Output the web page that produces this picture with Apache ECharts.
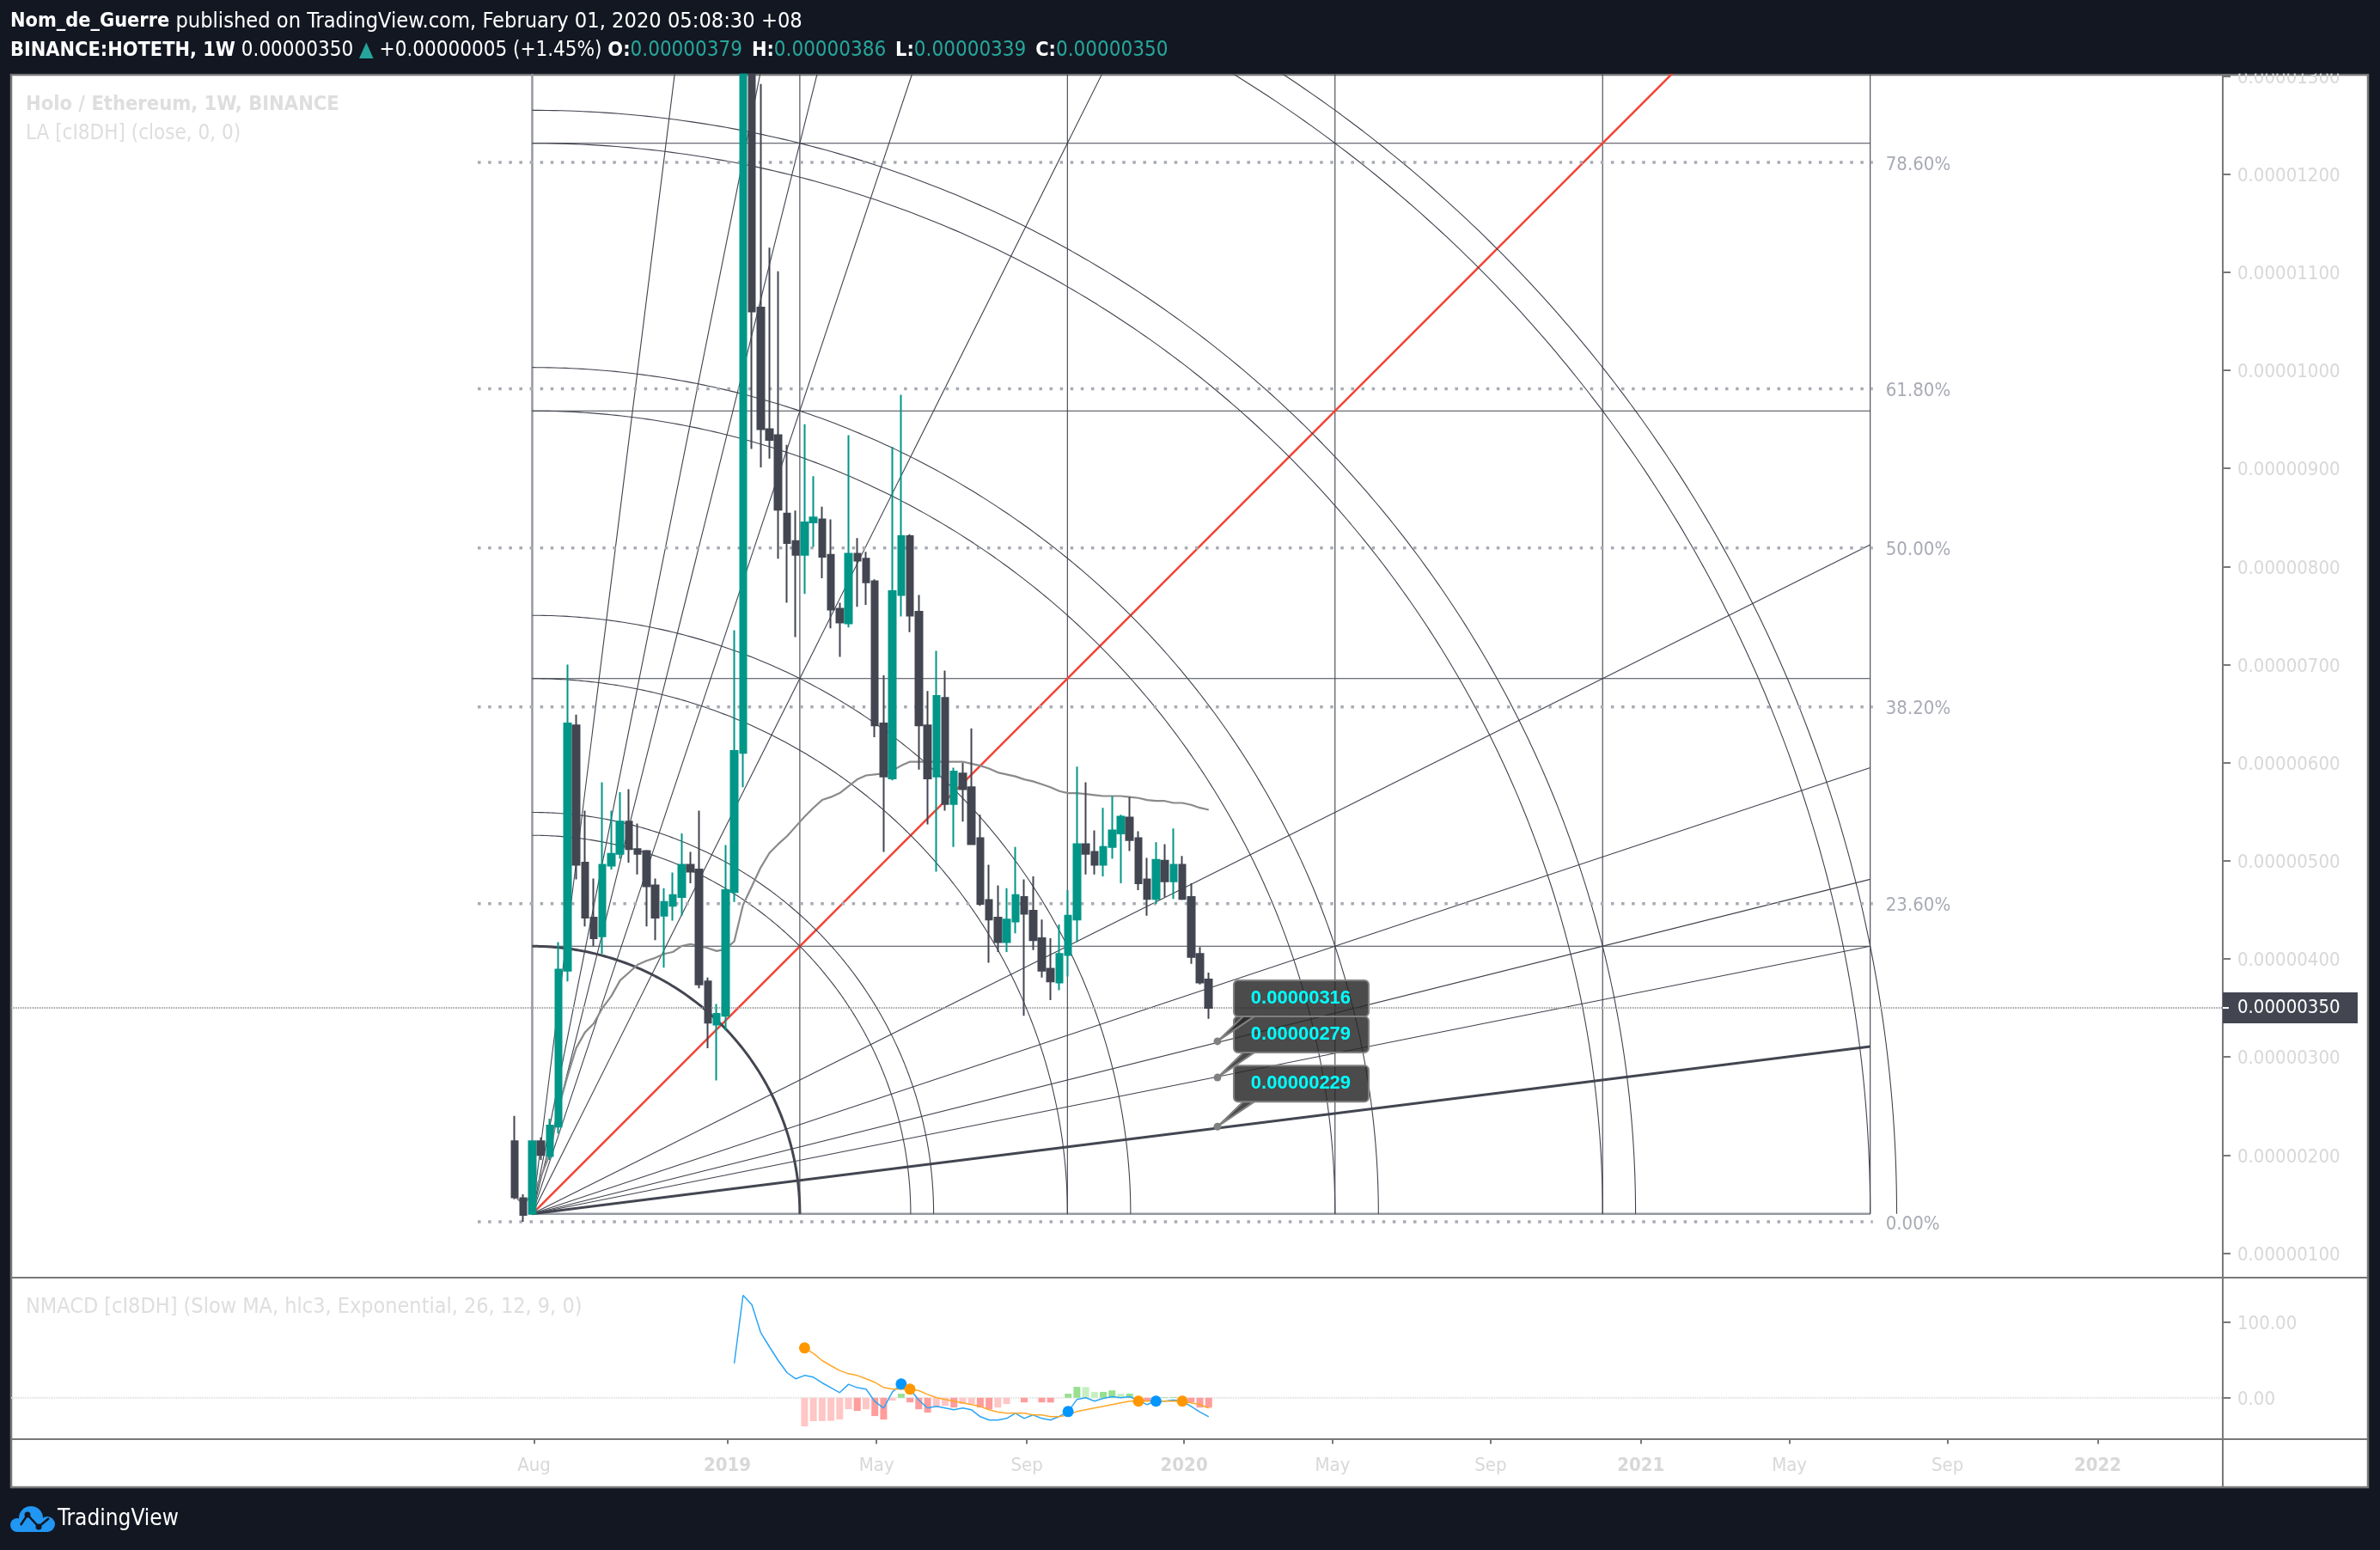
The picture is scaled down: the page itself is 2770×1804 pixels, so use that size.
<!DOCTYPE html>
<html><head><meta charset="utf-8">
<style>html,body{margin:0;padding:0;background:#131722}#c{width:2770px;height:1804px}</style>
<script src="https://cdn.jsdelivr.net/npm/echarts@6/dist/echarts.min.js"></script>
</head><body><div id="c"></div>
<script>
// Prices are in units of 0.00000001 ETH; bar numbers count weekly candles.
const opens = [214,156,140,214,199,229,388,638,498,442,
423,495,507,540,512,510,475,444,454,463,
496,491,377,333,342,468,610,1450,1064,940,
934,854,826,812,845,848,812,757,742,813,
808,785,640,584,771,831,754,638,586,666,
558,589,575,523,460,442,417,438,463,449,
421,390,376,404,440,517,509,496,514,528,
544,523,481,461,500,479,496,463,405,379];
const closes = [157,139,214,200,230,389,640,496,442,421,
496,507,540,512,507,474,442,458,465,496,
489,374,335,344,470,612,1450,1060,940,929,
858,824,812,845,850,810,756,743,813,806,
784,638,586,775,831,750,638,584,668,558,
591,573,517,456,440,417,440,465,446,419,
388,377,405,444,517,507,496,514,531,545,
521,477,461,501,479,496,461,402,376,350];
const lows = [155,132,139,195,195,222,377,481,433,413,
405,491,502,498,486,433,419,391,439,444,
477,370,309,276,327,458,575,920,901,910,
808,763,728,772,820,788,737,708,738,759,
761,626,509,582,749,733,593,537,489,551,
514,540,516,454,396,407,407,426,342,409,
381,358,368,382,417,486,486,484,502,477,
510,470,444,456,463,461,460,395,374,339];
const highs = [240,160,215,218,237,417,700,649,551,482,
580,551,570,573,538,511,482,472,488,528,
509,551,381,354,516,735,1506,1470,1292,1125,
1101,924,857,945,892,861,848,763,934,829,
815,787,689,922,975,833,771,673,714,694,
595,600,635,547,496,475,472,514,481,484,
440,421,435,470,596,580,531,554,566,547,
565,530,503,519,517,533,505,477,412,386];
const laLine = [158,150,160,178,201,248,280,309,325,334,
350,362,378,386,394,398,401,405,407,413,
415,413,411,408,410,418,455,474,493,508,
517,525,535,545,554,562,565,569,576,583,
587,588,589,592,597,601,601,601,601,601,
601,601,599,597,594,590,588,586,583,581,
578,575,571,569,569,568,567,566,566,566,
565,564,562,561,561,559,559,557,554,552];
const macdStart = 25;
const macdLine = [45.5,135.6,123,86.4,67.4,49.2,33.3,25,29.5,27.3,19.7,13.3,6.8,17.8,13.3,11.4,-4.9,-13.6,7.6,18.2,
11.4,-3,-13.6,-11.4,-13.6,-15.9,-13.6,-15.9,-25,-29.5,-29.5,-27.3,-20.5,-27.3,-22.7,-27.3,-29.5,-24.6,-18.2,-2.3,
0,-4.5,-0.8,1.5,0,1.5,-3.8,-9.1,-4.5,-4.5,-3,-4.5,-11.4,-18.9,-25];
const signalStart = 33;
const signalLine = [65.9,58.7,49.2,42.4,36,31.8,29.5,25,20.5,13.6,11.4,11.4,11.4,9.5,4.5,0,-2.3,-4.5,-6.8,-9.1,
-11.4,-15.9,-18.9,-20.5,-20.5,-20.5,-22.7,-22.7,-25,-25,-22.7,-18.2,-15.9,-13.6,-11.4,-9.1,-6.8,-4.5,-4.5,-4.5,
-4.5,-4.5,-4.5,-4.5,-6.8,-9.1,-13.6];
const histogram = [-37.9,-31,-30.8,-30.6,-28.8,-15.2,-17.4,-15.2,-24.2,-28.8,-3.8,5.3,-6.1,-15.2,-19.7,-12.9,-10.6,-12.9,-8.3,-8.1,
-12.9,-15.2,-12.9,-8.3,0,-6.1,0,-6.1,-6.3,0,5.3,14.4,14.2,7.6,7.8,9.8,5.3,5.5,-3.8,-4,
-3.8,0.8,1,-3.8,-6.1,-12.9,-13.1];
const blueDotBars = [44,63,73];
const orangeDotBars = [33,45,71,76];
const priceTicks = [100,200,300,400,500,600,700,800,900,1000,1100,1200,1300];
const macdTicks = [0,100];
const timeTickBars = [2.2,24.2,41.2,58.3,76.2,93.1,111.1,128.2,145.1,163.1,180.2];
const timeTickLabels = ['Aug','2019','May','Sep','2020','May','Sep','2021','May','Sep','2022'];
const fibLevels = [0,0.236,0.382,0.5,0.618,0.786];
const fanSlopes = [8,5,4,3,2,1,1/2,1/3,1/4,1/5,1/8];
const gannArcs = [[1,0],[1,1],[1.5,0],[2,0],[2,1],[3,0],[3,1],[4,0],[4,1],[5,0],[5,1]];
const gannLines = [1,2,3,4,5];
const gannOrigin = [2,140];
const gannUnit = [30.46,272.9];
const calloutBar = 80;
const calloutPrices = [229,279,316];
const lastChange = 5, lastChangePct = 1.45;

const fmtPrice = v => (v/1e8).toFixed(8);
const UI = "'DejaVu Sans Condensed','Noto Sans',sans-serif";
const GRAY = '#d8d8d8', FRAME = '#787878', LINE = '#40434e', SOFT = '#9598a1';
const TEAL = '#009688', DARK = '#434651';
const xMin = -57.31, xMax = 194.43;

const bg = {type:'line', animation:false, silent:true, symbol:'none', xAxisIndex:0, yAxisIndex:0};
const series = [];
const seg = (data, color, width, z, extra) => series.push(Object.assign({}, bg, {
  data, z, lineStyle:{color, width, cap:'butt'}}, extra||{}));

// Gann box grid
const [ox, oy] = gannOrigin, [ux, uy] = gannUnit;
seg([[ox,oy],[ox+5*ux,oy]], SOFT, 2.5, 1);
seg([[ox,oy],[ox,oy+5*uy]], SOFT, 2.5, 1);
gannLines.forEach(k => {
  seg([[ox,oy+k*uy],[ox+5*ux,oy+k*uy]], LINE, 1.1, 1);
  seg([[ox+k*ux,oy],[ox+k*ux,oy+5*uy]], LINE, 1.1, 1);
});
// Fan
fanSlopes.forEach(s => {
  const end = s>=1 ? [ox+5*ux/s, oy+5*uy] : [ox+5*ux, oy+5*uy*s];
  const color = s===1 ? '#f44336' : (s===1/8 ? DARK : LINE);
  seg([[ox,oy],end], color, s===1 ? 2.5 : (s===1/8 ? 3 : 1.1), 1);
});
// Arcs
gannArcs.forEach(([a,b]) => {
  const r = Math.sqrt(a*a+b*b), pts = [];
  for (let d=0; d<=240; d++) {
    const t = d/240*Math.PI/2;
    pts.push([ox+r*ux*Math.cos(t), oy+r*uy*Math.sin(t)]);
  }
  seg(pts, (a===1&&b===0) ? DARK : LINE, (a===1&&b===0) ? 3 : 1.1, 1);
});
// Fib retracement
const fibLow = lows[1], fibHigh = highs[26];
fibLevels.forEach(l => {
  const p = fibLow + l*(fibHigh-fibLow);
  seg([[-4.2,p],[154.6,p]], '#a8abb4', 3.5, 1, {
    lineStyle:{color:'#a8abb4', width:3.5, type:[3.5,8.6]},
    clip:false,
    endLabel:{show:true, distance:15, color:'#a8abb4', fontFamily:UI, fontSize:22, offset:[0,3],
      formatter:(l*100).toFixed(2)+'%'}
  });
});
// Current price line
const lastClose = closes[closes.length-1];
seg([[xMin,lastClose],[xMax,lastClose]], '#9a9a9a', 2, 1, {lineStyle:{color:'#9a9a9a',width:2,type:[1,1]}});
// LA moving average
seg(laLine.map((v,i)=>[i,v]), '#8a8a8a', 2.2, 2);
// Candles
series.push({type:'candlestick', animation:false, silent:true, z:3, xAxisIndex:0, yAxisIndex:0, clip:true,
  barWidth:8, encode:{x:0,y:[1,2,3,4]},
  itemStyle:{color:TEAL,color0:DARK,borderColor:TEAL,borderColor0:DARK,borderWidth:2},
  data:opens.map((o,i)=>[i,o,closes[i],lows[i],highs[i]])});
// Callouts
series.push({type:'custom', animation:false, silent:true, z:5, clip:false, xAxisIndex:0, yAxisIndex:0,
  data:calloutPrices.map(p=>[calloutBar,p]),
  renderItem:(params,api)=>{
    const c = api.coord([api.value(0),api.value(1)]), px=c[0], py=c[1];
    const fill='rgba(40,40,40,0.84)', edge='#808080';
    return {type:'group',children:[
      {type:'polygon',shape:{points:[[px,py],[px+30,py-29],[px+43,py-29]]},style:{fill,stroke:edge,lineWidth:2}},
      {type:'rect',shape:{x:px+19,y:py-71,width:157,height:42,r:5},style:{fill,stroke:edge,lineWidth:2}},
      {type:'circle',shape:{cx:px,cy:py,r:4.5},style:{fill:edge}},
      {type:'text',style:{x:px+97,y:py-50,text:fmtPrice(api.value(1)),align:'center',verticalAlign:'middle',
        fill:'#00ffff',font:"bold 22px 'Liberation Sans',sans-serif"}}
    ]};
  }});
// Last price tag
series.push({type:'custom', animation:false, silent:true, z:6, clip:false, xAxisIndex:0, yAxisIndex:0,
  data:[[xMax,lastClose]],
  renderItem:(params,api)=>{
    const c = api.coord([api.value(0),api.value(1)]);
    return {type:'group',children:[
      {type:'rect',shape:{x:c[0],y:c[1]-18,width:157,height:36},style:{fill:DARK}},
      {type:'rect',shape:{x:c[0],y:c[1]-1,width:7,height:2},style:{fill:'#ffffff'}},
      {type:'text',style:{x:c[0]+17,y:c[1],text:fmtPrice(api.value(1)),align:'left',verticalAlign:'middle',
        fill:'#ffffff',font:"22px "+UI}}
    ]};
  }});
// NMACD pane
const pane = {xAxisIndex:1,yAxisIndex:1,animation:false,silent:true};
series.push(Object.assign({},pane,{type:'line',symbol:'none',z:1,data:[[xMin,0],[xMax,0]],
  lineStyle:{color:'#dddddd',width:2,type:[1,1]}}));
series.push(Object.assign({},pane,{type:'bar',barWidth:8,z:2,
  data:histogram.map((v,i)=>[signalStart+i,v]),
  itemStyle:{color:p=>{
    const i=p.dataIndex, v=histogram[i], prev=i?histogram[i-1]:v;
    return v>=0 ? (v>prev?'#97e090':'#c5efc0') : (v<prev?'#ff9c9c':'#ffc6c6');
  }}}));
const macdData = macdLine.map((v,i)=>[macdStart+i,v]);
const signalData = signalLine.map((v,i)=>[signalStart+i,v]);
series.push(Object.assign({},pane,{type:'line',symbol:'none',z:3,data:macdData,lineStyle:{color:'#2aa5f5',width:1.5}}));
series.push(Object.assign({},pane,{type:'line',symbol:'none',z:3,data:signalData,lineStyle:{color:'#ffa726',width:1.5}}));
series.push(Object.assign({},pane,{type:'scatter',symbolSize:13,z:4,itemStyle:{color:'#0496ff',opacity:1},
  data:blueDotBars.map(b=>[b,macdLine[b-macdStart]])}));
series.push(Object.assign({},pane,{type:'scatter',symbolSize:13,z:4,itemStyle:{color:'#ff9800',opacity:1},
  data:orangeDotBars.map(b=>[b,signalLine[b-signalStart]])}));

const n = opens.length-1;
const sign = lastChange>=0?'+':'-';
const rich = {
  b:{fontFamily:UI,fontSize:23.3,fontWeight:'bold',color:'#ffffff',lineHeight:34},
  a:{fontFamily:UI,fontSize:25.2,fontWeight:'normal',color:'#ffffff',lineHeight:34},
  n:{fontFamily:UI,fontSize:24,fontWeight:'normal',color:'#ffffff',lineHeight:34},
  g:{fontFamily:UI,fontSize:24,fontWeight:'normal',color:'#26a69a',lineHeight:34,padding:[0,4,0,0]},
  t:{fontFamily:UI,fontSize:24,fontWeight:'normal',color:'#26a69a',lineHeight:34}
};
const header =
  '{b|Nom_de_Guerre}{a| published on TradingView.com, February 01, 2020 05:08:30 +08}\n'+
  '{b|BINANCE:HOTETH, 1W}{n| '+fmtPrice(closes[n])+' }{t|▲}{n| '+sign+fmtPrice(lastChange)+' (+'+lastChangePct.toFixed(2)+'%) }'+
  '{b|O:}{g|'+fmtPrice(opens[n])+' }{b|H:}{g|'+fmtPrice(highs[n])+' }{b|L:}{g|'+fmtPrice(lows[n])+' }{b|C:}{g|'+fmtPrice(closes[n])+'}';

const axisLine = {show:true,onZero:false,lineStyle:{color:FRAME,width:2}};
const chart = echarts.init(document.getElementById('c'));
chart.setOption({
  animation:false,
  backgroundColor:'#131722',
  title:{left:12,top:8,padding:0,z:6,text:header,textStyle:{rich,fontFamily:UI,fontSize:24,fontWeight:'normal',lineHeight:34,color:'#ffffff'}},
  grid:[
    {left:13,top:87,width:2574,height:1400,containLabel:false},
    {left:13,top:1487,width:2574,height:187.5,containLabel:false}
  ],
  xAxis:[
    {type:'value',gridIndex:0,min:xMin,max:xMax,show:false,splitLine:{show:false}},
    {type:'value',gridIndex:1,min:xMin,max:xMax,position:'bottom',splitLine:{show:false},
     axisLine:{show:false,onZero:false},
     axisTick:{show:true,length:6,customValues:timeTickBars,lineStyle:{color:FRAME,width:2}},
     axisLabel:{show:true,customValues:timeTickBars,margin:21,color:GRAY,fontFamily:UI,fontSize:22,
       hideOverlap:false,showMinLabel:true,showMaxLabel:true,
       formatter:v=>{
         const s=timeTickLabels[timeTickBars.indexOf(v)];
         return /^\d+$/.test(s)?'{y|'+s+'}':s;
       },
       rich:{y:{fontFamily:UI,fontSize:22,fontWeight:'bold',color:GRAY}}}}
  ],
  yAxis:[
    {type:'value',gridIndex:0,min:75,max:1301.4,position:'right',splitLine:{show:false},
     axisLine,axisTick:{show:true,length:9,customValues:priceTicks,lineStyle:{color:FRAME,width:2}},
     axisLabel:{show:true,customValues:priceTicks,margin:17,color:GRAY,fontFamily:UI,fontSize:22,
       verticalAlign:'top',lineHeight:5,
       showMinLabel:true,showMaxLabel:true,hideOverlap:false,formatter:fmtPrice}},
    {type:'value',gridIndex:1,min:-54.2,max:158.9,position:'right',splitLine:{show:false},
     axisLine,axisTick:{show:true,length:9,customValues:macdTicks,lineStyle:{color:FRAME,width:2}},
     axisLabel:{show:true,customValues:macdTicks,margin:17,color:GRAY,fontFamily:UI,fontSize:22,
       verticalAlign:'top',lineHeight:5,
       hideOverlap:false,formatter:v=>v.toFixed(2)}}
  ],
  graphic:[
    {type:'rect',z:-10,shape:{x:13,y:87,width:2743,height:1644},style:{fill:'#ffffff',stroke:FRAME,lineWidth:2.5}},
    {type:'rect',z:5,shape:{x:0,y:0,width:2770,height:85.5},style:{fill:'#131722'}},
    {type:'line',z:4,shape:{x1:13,y1:1487,x2:2756,y2:1487},style:{stroke:FRAME,lineWidth:2}},
    {type:'line',z:4,shape:{x1:13,y1:1675,x2:2756,y2:1675},style:{stroke:FRAME,lineWidth:2}},
    {type:'line',z:4,shape:{x1:2587,y1:1675,x2:2587,y2:1731},style:{stroke:FRAME,lineWidth:2}},
    {type:'text',z:4,style:{x:30,y:122,text:'Holo / Ethereum, 1W, BINANCE',verticalAlign:'middle',fill:'#dedede',font:'bold 23.5px '+UI}},
    {type:'text',z:4,style:{x:30,y:156,text:'LA [cI8DH] (close, 0, 0)',verticalAlign:'middle',fill:'#dedede',font:'24px '+UI}},
    {type:'text',z:4,style:{x:30,y:1521,text:'NMACD [cI8DH] (Slow MA, hlc3, Exponential, 26, 12, 9, 0)',verticalAlign:'middle',fill:'#dedede',font:'25px '+UI}},
    {type:'circle',z:6,shape:{cx:20,cy:1775,r:8},style:{fill:'#2196f3'}},
    {type:'circle',z:6,shape:{cx:36,cy:1767,r:14},style:{fill:'#2196f3'}},
    {type:'circle',z:6,shape:{cx:55,cy:1774,r:9},style:{fill:'#2196f3'}},
    {type:'rect',z:6,shape:{x:20,y:1772,width:36,height:11},style:{fill:'#2196f3'}},
    {type:'polyline',z:7,shape:{points:[[24,1775],[32,1763],[45,1777],[57,1767]]},style:{stroke:'#131722',lineWidth:2.5,fill:null}},
    {type:'circle',z:7,shape:{cx:32,cy:1763,r:3.5},style:{fill:'#131722'}},
    {type:'circle',z:7,shape:{cx:45,cy:1777,r:3.5},style:{fill:'#131722'}},
    {type:'text',z:7,style:{x:67,y:1768,text:'TradingView',verticalAlign:'middle',fill:'#ffffff',font:'26px '+UI}}
  ],
  series
});
</script></body></html>
